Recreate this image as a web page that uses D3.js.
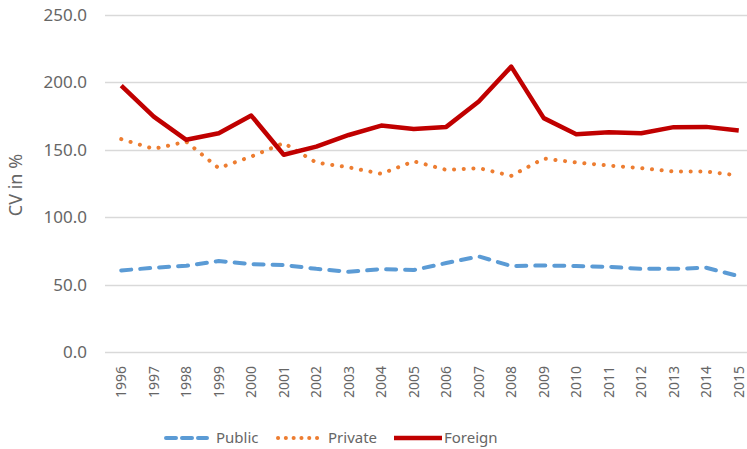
<!DOCTYPE html>
<html>
<head>
<meta charset="utf-8">
<script src="https://cdn.jsdelivr.net/npm/d3@7"></script>
<style>
    html, body { margin: 0; padding: 0; background: #fff; }
    svg text { font-family: "Noto Sans", "Liberation Sans", sans-serif; fill: #666; }
</style>
</head>
<body>
<div id="chart"></div>
<script>
    var years = ["1996", "1997", "1998", "1999", "2000", "2001", "2002", "2003", "2004", "2005",
        "2006", "2007", "2008", "2009", "2010", "2011", "2012", "2013", "2014", "2015"];
    var publicCV = [60.5, 62.5, 64, 67.5, 65.2, 64.5, 61.7, 59.5, 61.5, 60.8,
        66, 70.9, 63.8, 64.2, 63.8, 63.2, 61.7, 61.7, 62.5, 56.3];
    var privateCV = [157.9, 150.7, 156, 136.4, 145, 155, 140.5, 137, 132.2, 141.5,
        135.1, 136.4, 130.7, 143.5, 140.6, 138.3, 136.4, 133.9, 133.9, 130.9];
    var foreignCV = [197.6, 174.6, 157.4, 162.3, 175.4, 146.3, 152.4, 161, 168, 165.5,
        167, 185.8, 211.7, 173.5, 161.6, 163, 162.3, 166.8, 167, 164.3];
    var yTicks = [0, 50, 100, 150, 200, 250];

(function () {
    'use strict';

    var series = [
        { name: "Public", values: publicCV, color: "#5B9BD5", width: 4, dash: "10,9", cap: "round" },
        { name: "Private", values: privateCV, color: "#ED7D31", width: 4, dash: "0.1,9.6", cap: "round" },
        { name: "Foreign", values: foreignCV, color: "#C00000", width: 4.5, dash: null, cap: "butt" }
    ];

    var W = 747, H = 449;
    var plotLeft = 105, plotRight = 755, plotTop = 15, plotBottom = 352;

    var svg = d3.select("#chart")
        .append("svg")
        .attr("width", W)
        .attr("height", H);

    var x = d3.scaleBand()
        .domain(years)
        .range([plotLeft, plotRight]);

    var y = d3.scaleLinear()
        .domain([0, 250])
        .range([plotBottom, plotTop]);

    //gridlines
    svg.selectAll("line.grid")
        .data(yTicks)
        .enter()
        .append("line")
        .attr("class", "grid")
        .attr("x1", plotLeft)
        .attr("x2", W)
        .attr("y1", function (d) { return Math.round(y(d)) + 0.5; })
        .attr("y2", function (d) { return Math.round(y(d)) + 0.5; })
        .attr("stroke", "#D9D9D9")
        .attr("stroke-width", 1.3);

    var yAxis = svg.append("g")
        .attr("transform", "translate(" + plotLeft + ",0)")
        .call(d3.axisLeft(y).tickValues(yTicks).tickSize(0).tickPadding(18)
            .tickFormat(d3.format(".1f")));
    yAxis.select(".domain").remove();
    yAxis.selectAll("text")
        .style("font-size", "17px")
        .style("font-family", null);

    var xAxis = svg.append("g")
        .attr("transform", "translate(0," + plotBottom + ")")
        .call(d3.axisBottom(x).tickSize(0).tickPadding(0));
    xAxis.select(".domain").remove();
    xAxis.selectAll("text")
        .style("font-size", "14px")
        .style("font-family", null)
        .attr("text-anchor", "end")
        .attr("dy", "0.35em")
        .attr("transform", "translate(0,14) rotate(-90)");

    svg.append("text")
        .attr("transform", "translate(22,185) rotate(-90)")
        .attr("text-anchor", "middle")
        .style("font-size", "18px")
        .text("CV in %");

    var line = d3.line()
        .x(function (d, i) { return x(years[i]) + x.bandwidth() / 2; })
        .y(function (d) { return y(d); });

    svg.selectAll("path.series")
        .data(series)
        .enter()
        .append("path")
        .attr("class", "series")
        .attr("d", function (s) { return line(s.values); })
        .attr("fill", "none")
        .attr("stroke", function (s) { return s.color; })
        .attr("stroke-width", function (s) { return s.width; })
        .attr("stroke-dasharray", function (s) { return s.dash; })
        .attr("stroke-linecap", function (s) { return s.cap; })
        .attr("stroke-linejoin", "round");

    //legend
    var legendX = [164, 276, 394];
    var legendDash = ["10,6", "0.1,7.7", null];
    var legend = svg.selectAll("g.legend")
        .data(series)
        .enter()
        .append("g")
        .attr("class", "legend")
        .attr("transform", function (s, i) { return "translate(" + legendX[i] + ",438)"; });

    legend.append("line")
        .attr("x1", function (s, i) { return i === 2 ? 0 : 2; })
        .attr("x2", function (s, i) { return i === 2 ? 48 : 43; })
        .attr("y1", 0)
        .attr("y2", 0)
        .attr("stroke", function (s) { return s.color; })
        .attr("stroke-width", function (s) { return s.width; })
        .attr("stroke-dasharray", function (s, i) { return legendDash[i]; })
        .attr("stroke-linecap", function (s) { return s.cap; });

    legend.append("text")
        .attr("x", function (s, i) { return i === 2 ? 50 : 52; })
        .attr("dy", "0.35em")
        .style("font-size", "15px")
        .text(function (s) { return s.name; });
})();
</script>
</body>
</html>
